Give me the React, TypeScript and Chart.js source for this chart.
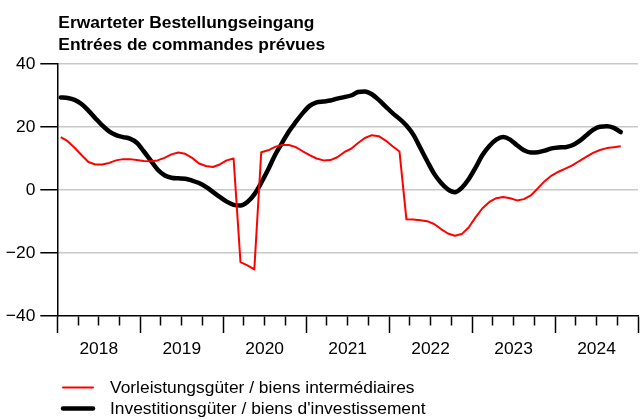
import React, { useEffect, useRef } from "react";
import { Chart, registerables } from "chart.js";

Chart.register(...registerables);

const titleLines = ["Erwarteter Bestellungseingang", "Entrées de commandes prévues"];
const seriesLabels = [
  "Vorleistungsgüter / biens intermédiaires",
  "Investitionsgüter / biens d'investissement",
];
const firstYear = 2018;
const yearLabels = ["2018", "2019", "2020", "2021", "2022", "2023", "2024"];
const yTicks = [-40, -20, 0, 20, 40];

// monthly values, Jan 2018 .. Oct 2024
const vorleistung = [
  16.8, 15.5, 13.4, 11.1, 8.9, 8.1, 8.1, 8.6, 9.4, 9.8, 9.8, 9.5,
  9.2, 9.1, 9.4, 10.2, 11.3, 11.9, 11.5, 10.2, 8.4, 7.6, 7.3, 8.1,
  9.4, 10.0, -22.9, -23.9, -25.2, 12.0, 12.6, 13.7, 14.3, 14.3, 13.6, 12.3,
  11.1, 10.0, 9.4, 9.5, 10.4, 12.0, 13.1, 14.9, 16.5, 17.4, 17.1, 15.7,
  13.9, 12.2, -9.3, -9.4, -9.6, -9.9, -10.8, -12.4, -13.8, -14.5, -14.0, -11.9,
  -8.7, -5.8, -3.8, -2.6, -2.2, -2.6, -3.3, -2.9, -1.7, 0.5, 2.8, 4.6,
  5.8, 6.8, 7.8, 9.2, 10.5, 11.8, 12.7, 13.3, 13.6, 13.9,
];
const investition = [
  29.4, 29.2, 28.6, 27.3, 25.2, 22.8, 20.5, 18.6, 17.4, 16.8, 16.3, 15.0,
  12.3, 9.4, 6.5, 4.7, 3.9, 3.7, 3.6, 3.0, 2.2, 1.0, -0.6, -2.2,
  -3.7, -4.7, -4.9, -3.8, -1.4, 2.3, 6.5, 11.1, 14.9, 18.6, 21.6, 24.4,
  26.7, 27.8, 28.1, 28.4, 29.0, 29.5, 30.0, 31.1, 31.3, 30.4, 28.6, 26.5,
  24.4, 22.6, 20.5, 17.6, 13.4, 9.2, 5.2, 2.3, 0.2, -0.7, 0.7, 3.4,
  7.1, 11.1, 14.0, 16.0, 16.8, 16.0, 14.2, 12.6, 11.9, 12.0, 12.5, 13.2,
  13.5, 13.6, 14.2, 15.5, 17.3, 19.1, 20.1, 20.2, 19.7, 18.4,
];

const toPoints = (arr: number[]) => arr.map((v, i) => ({ x: i + 0.5, y: v }));

const FONT = '"Liberation Sans", Arial, Helvetica, sans-serif';
const FS = 17.4;

const overlayPlugin = {
  id: "overlayText",
  afterDraw(chart: any) {
    const ctx = chart.ctx;
    const left = chart.chartArea.left;
    ctx.save();
    ctx.fillStyle = "#000";
    ctx.textAlign = "left";
    ctx.textBaseline = "alphabetic";
    ctx.font = `bold ${FS}px ${FONT}`;
    ctx.fillText(titleLines[0], left + 1, 28);
    ctx.fillText(titleLines[1], left + 1, 49.5);
    // legend
    const rows = [387.5, 408.5];
    chart.data.datasets.forEach((ds: any, i: number) => {
      const y = rows[i];
      ctx.strokeStyle = ds.borderColor;
      ctx.lineWidth = ds.borderWidth;
      ctx.lineCap = "round";
      ctx.beginPath();
      ctx.moveTo(63, y);
      ctx.lineTo(93, y);
      ctx.stroke();
      ctx.font = `${FS}px ${FONT}`;
      ctx.textBaseline = "middle";
      ctx.fillStyle = "#000";
      ctx.fillText(ds.label, 110, y + 1);
    });
    ctx.restore();
  },
};

export default function App() {
  const ref = useRef<HTMLCanvasElement | null>(null);
  useEffect(() => {
    if (!ref.current) return;
    const chart = new Chart(ref.current, {
      type: "line",
      data: {
        datasets: [
          {
            label: seriesLabels[0],
            data: toPoints(vorleistung),
            borderColor: "#ff0000",
            borderWidth: 2,
            pointRadius: 0,
            tension: 0,
            borderJoinStyle: "round",
            fill: false,
          },
          {
            label: seriesLabels[1],
            data: toPoints(investition),
            borderColor: "#000000",
            borderWidth: 4.5,
            pointRadius: 0,
            cubicInterpolationMode: "monotone",
            borderCapStyle: "round",
            borderJoinStyle: "round",
            fill: false,
          },
        ],
      },
      options: {
        animation: false,
        responsive: true,
        maintainAspectRatio: false,
        layout: { padding: { top: 64, left: 0, right: 0, bottom: 0 } },
        plugins: { legend: { display: false }, title: { display: false }, tooltip: { enabled: false } },
        scales: {
          x: {
            type: "linear",
            min: 0,
            max: 84,
            afterFit: (s: any) => {
              s.height = 103;
            },
            ticks: {
              stepSize: 3,
              autoSkip: false,
              maxRotation: 0,
              padding: 6,
              color: "#000",
              font: { size: FS, family: FONT },
              callback: (v: any) => {
                const n = Number(v);
                if (n % 12 === 6) return yearLabels[(n - 6) / 12] ?? String(firstYear + (n - 6) / 12);
                return "";
              },
            },
            grid: {
              drawOnChartArea: false,
              drawTicks: true,
              tickLength: 17,
              tickColor: "#000",
              tickWidth: 1.5,
              tickBorderDash: (c: any) => (c.tick && c.tick.value % 12 === 0 ? [] : [9, 40]),
            },
            border: { display: true, color: "#000", width: 1.5 },
          },
          y: {
            type: "linear",
            min: yTicks[0],
            max: yTicks[yTicks.length - 1],
            afterFit: (s: any) => {
              s.width = 57.3;
            },
            ticks: {
              stepSize: 20,
              padding: 5,
              color: "#000",
              font: { size: FS, family: FONT },
              callback: (v: any) => {
                const n = Number(v);
                return n < 0 ? "\u2212" + Math.abs(n) : String(n);
              },
            },
            grid: {
              color: (c: any) => (c.tick && c.tick.value === yTicks[0] ? "rgba(0,0,0,0)" : "#c8c8c8"),
              lineWidth: 1.5,
              tickColor: "#000",
              tickLength: 17,
              tickWidth: 1.5,
            },
            border: { display: true, color: "#000", width: 1.5 },
          },
        },
      },
      plugins: [overlayPlugin],
    });
    return () => chart.destroy();
  }, []);
  return (
    <div style={{ position: "absolute", left: 0, top: 0, width: 644, height: 419, background: "#fff" }}>
      <canvas ref={ref} />
    </div>
  );
}
